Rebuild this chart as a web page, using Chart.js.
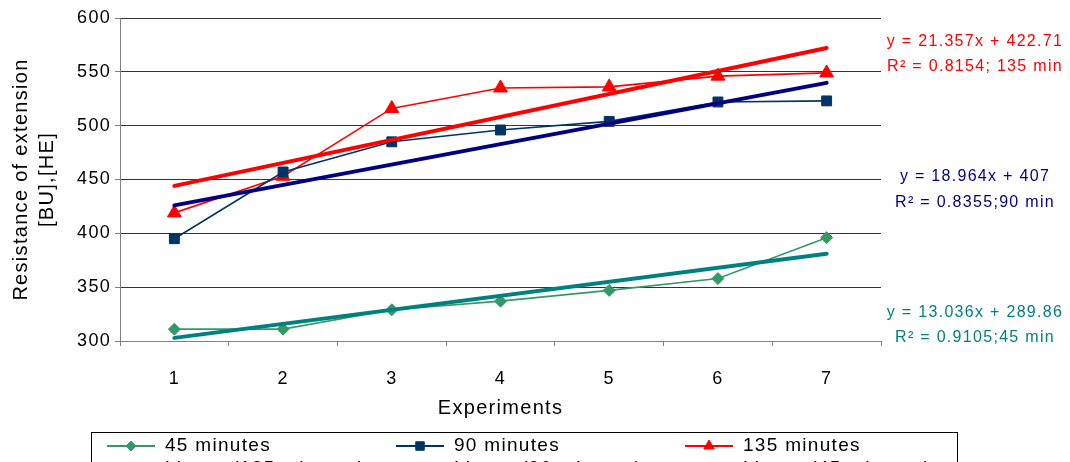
<!DOCTYPE html>
<html>
<head>
<meta charset="utf-8">
<script src="https://cdn.jsdelivr.net/npm/chart.js@4/dist/chart.umd.min.js"></script>
<style>
  html, body { margin: 0; padding: 0; background: #fff; }
  #wrap { width: 1070px; height: 462px; position: relative; }
</style>
</head>
<body>
<div id="wrap"><canvas id="chart" width="1070" height="462"></canvas></div>
<script>
// Experiment numbers on the category axis
const experiments = ['1', '2', '3', '4', '5', '6', '7'];

// Resistance of extension per kneading time
const min45 = [311, 311, 329, 337, 347, 358, 396];
const min90 = [395, 457, 485, 496, 504, 522, 523];
const min135 = [419, 453, 516, 535, 536, 546, 549];

// Linear fits (45, 90, 135 minutes)
const fitSlope = [13.036, 18.964, 21.357];
const fitIntercept = [289.86, 407, 422.71];
const fitEquation = ['y = 13.036x + 289.86', 'y = 18.964x + 407', 'y = 21.357x + 422.71'];
const fitR2Label = ['R\u00B2 = 0.9105;45 min', 'R\u00B2 = 0.8355;90 min', 'R\u00B2 = 0.8154; 135 min'];

// Y axis ticks
const yTicks = [300, 350, 400, 450, 500, 550, 600];

const FONT = '"Liberation Sans", Arial, sans-serif';
const SPACING = '1.3px';

// Trend line: only the two end points, joined across the gaps
function fitLine(i) {
  return experiments.map((e, k) =>
    (k === 0 || k === experiments.length - 1) ? fitSlope[i] * Number(e) + fitIntercept[i] : null);
}

const spacingPlugin = {
  id: 'spacing',
  beforeUpdate(chart) { chart.ctx.letterSpacing = SPACING; },
  beforeDraw(chart) { chart.ctx.letterSpacing = SPACING; }
};

// Equation + R² labels to the right of the plot
const fitLabelPlugin = {
  id: 'fitLabels',
  afterDraw(chart) {
    const ctx = chart.ctx;
    const ca = chart.chartArea;
    const colors = ['#008080', '#000080', '#FF0000'];
    const rowY = [[ca.top + 295, ca.top + 320], [ca.top + 159, ca.top + 185], [ca.top + 24, ca.top + 49]];
    const cx = ca.right + 94;
    ctx.save();
    ctx.letterSpacing = SPACING;
    ctx.font = '16px ' + FONT;
    ctx.textAlign = 'center';
    ctx.textBaseline = 'middle';
    for (let i = 0; i < 3; i++) {
      ctx.fillStyle = colors[i];
      ctx.fillText(fitEquation[i], cx, rowY[i][0]);
      ctx.fillText(fitR2Label[i], cx, rowY[i][1]);
    }
    ctx.restore();
  }
};

// Boxed legend under the axis title (second row runs off the bottom edge)
const boxLegendPlugin = {
  id: 'boxLegend',
  afterDraw(chart) {
    const ctx = chart.ctx;
    const left = 91, top = 432, right = 957;
    ctx.save();
    ctx.letterSpacing = SPACING;
    ctx.strokeStyle = '#000';
    ctx.lineWidth = 1;
    ctx.strokeRect(left + 0.5, top + 0.5, right - left, 60);
    ctx.font = '19px ' + FONT;
    ctx.textBaseline = 'middle';
    ctx.textAlign = 'left';
    chart.data.datasets.forEach(ds => {
      const row = ds.legendRow, col = ds.legendCol;
      const x0 = left + 16 + col * 289;
      const y = top + 14 + row * 23;
      ctx.strokeStyle = ds.borderColor;
      ctx.lineWidth = row === 0 ? 2 : 3.5;
      ctx.beginPath();
      ctx.moveTo(x0, y);
      ctx.lineTo(x0 + 48, y);
      ctx.stroke();
      if (ds.pointRadius > 0) {
        ctx.fillStyle = ds.pointBackgroundColor;
        ctx.strokeStyle = ds.pointBorderColor;
        ctx.lineWidth = 1;
        Chart.helpers.drawPoint(ctx, {
          pointStyle: ds.pointStyle, radius: ds.legendRadius, rotation: 0, borderWidth: 1
        }, x0 + 24, y);
      }
      ctx.fillStyle = '#000';
      ctx.fillText(ds.label, x0 + 58, y);
    });
    ctx.restore();
  }
};

function series(label, data, color, style, radius, legendRadius, col) {
  return {
    label, data,
    borderColor: color, backgroundColor: color,
    pointBackgroundColor: color, pointBorderColor: color,
    pointStyle: style, pointRadius: radius, pointHoverRadius: radius, pointBorderWidth: 1,
    borderWidth: 1.6, tension: 0, order: 1,
    legendRow: 0, legendCol: col, legendRadius
  };
}

function trend(label, i, color, col) {
  return {
    label, data: fitLine(i),
    borderColor: color, backgroundColor: color,
    borderWidth: 4, pointRadius: 0, pointHoverRadius: 0, spanGaps: true,
    tension: 0, order: 0, borderCapStyle: 'round',
    legendRow: 1, legendCol: col
  };
}

new Chart(document.getElementById('chart'), {
  type: 'line',
  data: {
    labels: experiments,
    datasets: [
      series('45 minutes', min45, '#339966', 'rectRot', 6, 5, 0),
      series('90 minutes', min90, '#003366', 'rect', 7, 6, 1),
      series('135 minutes', min135, '#FF0000', 'triangle', 8, 6, 2),
      trend('Linear (135 minutes)', 2, '#FF0000', 0),
      trend('Linear (90 minutes)', 1, '#000080', 1),
      trend('Linear (45 minutes)', 0, '#008080', 2)
    ]
  },
  options: {
    responsive: false,
    animation: false,
    devicePixelRatio: 1,
    layout: { padding: { top: 18, right: 189, bottom: 41, left: 0 } },
    plugins: { legend: { display: false }, tooltip: { enabled: false } },
    scales: {
      x: {
        type: 'category',
        offset: true,
        grid: {
          display: true, offset: true, drawOnChartArea: false, drawTicks: true,
          tickLength: 5, tickColor: '#808080', tickWidth: 1
        },
        border: { display: true, color: '#808080', width: 1 },
        ticks: { color: '#000', font: { family: FONT, size: 18 }, padding: 22, maxRotation: 0 },
        title: {
          display: true, text: 'Experiments', color: '#000',
          font: { family: FONT, size: 20 }, padding: { top: 0, bottom: 1 }
        },
        afterFit(scale) { scale.height = 80; }
      },
      y: {
        min: 300, max: 600,
        afterBuildTicks(scale) { scale.ticks = yTicks.map(v => ({ value: v })); },
        grid: {
          color: '#333', lineWidth: 1, drawTicks: true, tickLength: 5,
          tickColor: '#808080', tickWidth: 1
        },
        border: { display: true, color: '#808080', width: 1 },
        ticks: { color: '#000', font: { family: FONT, size: 18 }, padding: 4 },
        title: {
          display: true, text: ['Resistance of extension', '[BU],[HE]'], color: '#000',
          font: { family: FONT, size: 20, lineHeight: 1.3 }, padding: { top: 8, bottom: 0 }
        },
        afterFit(scale) { scale.width = 120; }
      }
    }
  },
  plugins: [spacingPlugin, fitLabelPlugin, boxLegendPlugin]
});
</script>
</body>
</html>
